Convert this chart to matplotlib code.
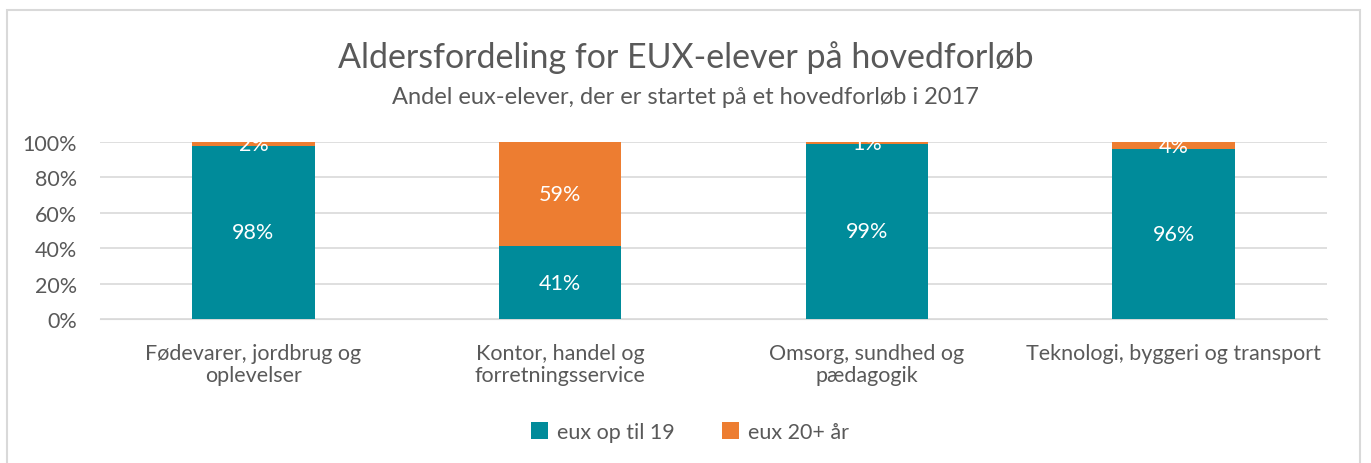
import matplotlib.pyplot as plt
import numpy as np
from matplotlib.patches import Rectangle

plt.rcParams['font.family'] = ['Lato', 'DejaVu Sans']

categories = ["Fødevarer, jordbrug og\noplevelser", "Kontor, handel og\nforretningsservice",
              "Omsorg, sundhed og\npædagogik", "Teknologi, byggeri og transport"]
young = [98, 41, 99, 96]
older = [2, 59, 1, 4]
series_names = ["eux op til 19", "eux 20+ år"]
colors = ["#008B9A", "#ED7D31"]

fig = plt.figure(figsize=(13.71, 4.64), dpi=100)
ax = fig.add_axes([100 / 1371, 1 - 320 / 464, 1227 / 1371, 177 / 464])

# ramme rundt om diagrammet
fig.patches.append(Rectangle((7 / 1371, -0.05), 1353 / 1371, 1.05 - 11 / 464,
                             transform=fig.transFigure, fill=False,
                             edgecolor="#D9D9D9", linewidth=1.5))

x = np.arange(len(categories))
b1 = ax.bar(x, young, width=0.4, color=colors[0], label=series_names[0], zorder=3)
b2 = ax.bar(x, older, width=0.4, bottom=young, color=colors[1], label=series_names[1], zorder=3)

for bars, vals, base in [(b1, young, [0] * 4), (b2, older, young)]:
    for rect, v, b in zip(bars, vals, base):
        ax.text(rect.get_x() + rect.get_width() / 2, b + v / 2, f"{v}%",
                ha="center", va="center", color="white", fontsize=15.5, zorder=4)

ax.set_xlim(-0.5, 3.5)
ax.set_ylim(0, 100)
ax.set_yticks(range(0, 101, 20))
ax.set_yticklabels([f"{t}%" for t in range(0, 101, 20)])
ax.set_xticks(x)
ax.set_xticklabels(categories, linespacing=1.15)
ax.grid(axis="y", color="#D9D9D9", linewidth=1.2, zorder=0)
for s in ["top", "right", "left"]:
    ax.spines[s].set_visible(False)
ax.spines["bottom"].set_color("#D9D9D9")
ax.tick_params(axis="both", length=0, labelsize=15.5, labelcolor="#595959")
ax.tick_params(axis="x", pad=17)
ax.tick_params(axis="y", pad=16.5)

fig.text(0.5, 1 - 58 / 464, "Aldersfordeling for EUX-elever på hovedforløb",
         ha="center", va="center", fontsize=24.5, color="#595959")
fig.text(0.5, 1 - 97 / 464, "Andel eux-elever, der er startet på et hovedforløb i 2017",
         ha="center", va="center", fontsize=17, color="#595959")

fig.legend(loc="center", bbox_to_anchor=(0.503, 1 - 433 / 464), ncol=2, frameon=False,
           fontsize=15.5, handlelength=0.8, handleheight=0.8, columnspacing=2.2,
           handletextpad=0.4, labelcolor="#595959")

fig.savefig("out.png", dpi=100)
